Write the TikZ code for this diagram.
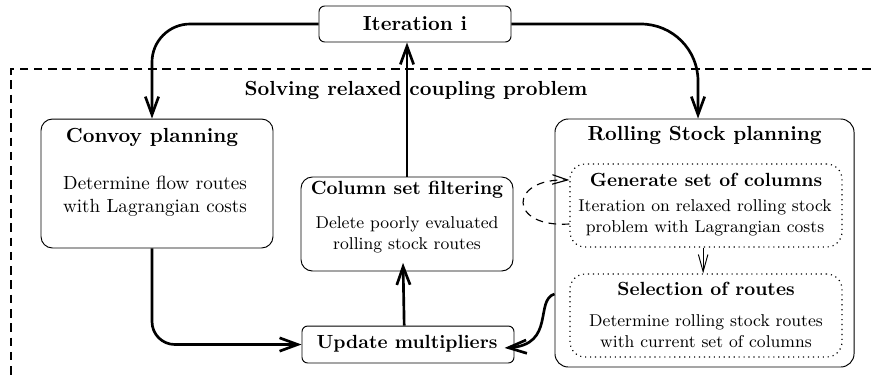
\documentclass[tikz,border=0pt]{standalone}
\usetikzlibrary{arrows.meta}
\begin{document}
\begin{tikzpicture}[x=0.525pt,y=-0.525pt,
 box/.style={draw, line width=0.5pt, rounded corners=6pt, inner sep=0pt},
 dotbox/.style={draw, dotted, line width=0.6pt, rounded corners=8pt, inner sep=0pt},
 bigtitle/.style={font=\fontsize{10.7}{13}\selectfont\bfseries, inner sep=0pt},
 title/.style={font=\bfseries, inner sep=0pt},
 body/.style={align=center, inner sep=0pt, font=\normalsize},
 smallbody/.style={align=center, inner sep=0pt, font=\small},
 flow/.style={line width=1.4pt, -{Straight Barb[length=9.5pt,width=7pt]}},
 thinflow/.style={line width=0.5pt, -{Straight Barb[length=9pt,width=5pt]}},
 loopflow/.style={line width=0.6pt, dash pattern=on 4pt off 3pt, -{Straight Barb[length=8pt,width=5pt]}},
 frame/.style={line width=0.6pt, dash pattern=on 4.5pt off 3pt}]
\useasboundingbox (0,0) rectangle (871,378);

% dashed frame
\draw[frame] (871,69) -- (11,69) -- (11,378);
\node[bigtitle] (solve) at (416,90) {Solving relaxed coupling problem};

% boxes
\node[box, rounded corners=3pt, minimum width=100.8pt, minimum height=18.9pt] (iter) at (415,24) {};
\node[bigtitle] (itert) at (415,24) {Iteration i};

\node[box, minimum width=121.8pt, minimum height=67.7pt] (convoy) at (157,183.5) {};
\node[bigtitle] (cvt) at (152,137) {Convoy planning};
\node[body] (cvb) at (155,196.5) {Determine flow routes\\with Lagrangian costs};

\node[box, minimum width=111.3pt, minimum height=49.35pt] (col) at (407,224) {};
\node[title] (colt) at (407,190) {Column set filtering};
\node[smallbody] (colb) at (407,235) {Delete poorly evaluated\\rolling stock routes};

\node[box, rounded corners=3pt, minimum width=111.3pt, minimum height=19.4pt] (upd) at (408,344.5) {};
\node[title] (updt) at (407,344) {Update multipliers};

\node[box, rounded corners=7pt, minimum width=157pt, minimum height=130.2pt] (rs) at (704.5,243) {};
\node[bigtitle] (rst) at (704.5,135) {Rolling Stock planning};

\node[dotbox, minimum width=142.8pt, minimum height=43.6pt] (gen) at (706,205.5) {};
\node[title] (gent) at (706,180) {Generate set of columns};
\node[smallbody] (genb) at (705,217.5) {Iteration on relaxed rolling stock\\problem with Lagrangian costs};

\node[dotbox, minimum width=142.8pt, minimum height=43.6pt] (sel) at (706,315.5) {};
\node[title] (selt) at (706,289) {Selection of routes};
\node[smallbody] (selb) at (706,331.5) {Determine rolling stock routes\\with current set of columns};

% connectors
\draw[flow, rounded corners=20pt] (iter.west) -| (cvt.north |- convoy.north);
\draw[flow, rounded corners=30pt] (iter.east) -| ([xshift=-3.4pt]rs.north);
\draw[flow] (col.north) -- (col.north |- iter.south);
\draw[flow, shorten >=-4.5pt] ([xshift=-2pt]upd.north) -- ([xshift=-2pt]col.south);
\draw[flow, rounded corners=12pt] (cvt.south |- convoy.south) |- (upd.west);
\coordinate (rsw) at (rs.west |- 0,294);
\draw[flow] (rsw) .. controls +(-20,6) and +(51,-3) .. ([xshift=-5.2pt,yshift=-1.8pt]upd.east);
\draw[thinflow] ([xshift=-1.5pt]gen.south) -- ([xshift=-1.5pt]sel.north);
\draw[loopflow] (gen.west |- 0,224) .. controls (508,228) and (508,178) .. (gen.west |- 0,180);
\end{tikzpicture}
\end{document}
